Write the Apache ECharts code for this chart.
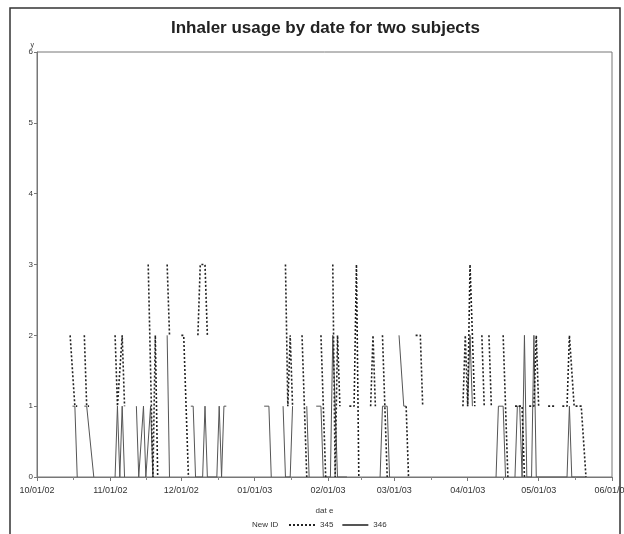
<!DOCTYPE html>
<html>
<head>
<meta charset="utf-8">
<script src="https://cdn.jsdelivr.net/npm/echarts@6/dist/echarts.min.js"></script>
<style>html,body{margin:0;padding:0;background:#fff}#c{width:624px;height:534px}</style>
</head>
<body>
<div id="c"></div>
<script>
// Subject 345 (dashed); null entries break the line
var dates345 = [
 '2002-10-15','2002-10-17','2002-10-18',null,
 '2002-10-21','2002-10-22','2002-10-23',null,
 '2002-11-03','2002-11-04','2002-11-06','2002-11-07',null,
 '2002-11-17','2002-11-19','2002-11-20','2002-11-21',null,
 '2002-11-25','2002-11-26',null,
 '2002-12-01','2002-12-02','2002-12-04',null,
 '2002-12-08','2002-12-09','2002-12-11','2002-12-12',null,
 '2003-01-14','2003-01-15','2003-01-16','2003-01-17',null,
 '2003-01-21','2003-01-23',null,
 '2003-01-29','2003-01-31',null,
 '2003-02-03','2003-02-04','2003-02-05','2003-02-06',null,
 '2003-02-10','2003-02-12','2003-02-13','2003-02-14',null,
 '2003-02-19','2003-02-20','2003-02-21',null,
 '2003-02-24','2003-02-26',null,
 '2003-03-06','2003-03-07',null,
 '2003-03-10','2003-03-12','2003-03-13',null,
 '2003-03-30','2003-03-31','2003-04-01','2003-04-02','2003-04-04',null,
 '2003-04-07','2003-04-08',null,
 '2003-04-10','2003-04-11',null,
 '2003-04-16','2003-04-18',null,
 '2003-04-21','2003-04-24','2003-04-25',null,
 '2003-04-27','2003-04-29','2003-04-30','2003-05-01',null,
 '2003-05-05','2003-05-08',null,
 '2003-05-11','2003-05-13','2003-05-14','2003-05-16','2003-05-19','2003-05-21'
];
var values345 = [
 2,1,1,null,
 2,1,1,null,
 2,1,2,1,null,
 3,0,2,0,null,
 3,2,null,
 2,2,0,null,
 2,3,3,2,null,
 3,1,2,1,null,
 2,0,null,
 2,0,null,
 3,0,2,1,null,
 1,1,3,0,null,
 1,2,1,null,
 2,0,null,
 1,0,null,
 2,2,1,null,
 1,2,1,3,1,null,
 2,1,null,
 2,1,null,
 2,0,null,
 1,1,0,null,
 1,1,2,1,null,
 1,1,null,
 1,1,2,1,1,0
];
// Subject 346 (solid)
var dates346 = [
 '2002-10-16','2002-10-17','2002-10-18',null,
 '2002-10-21','2002-10-22','2002-10-25',null,
 '2002-11-03','2002-11-04','2002-11-05','2002-11-06','2002-11-07',null,
 '2002-11-12','2002-11-13','2002-11-15','2002-11-16','2002-11-18','2002-11-19',null,
 '2002-11-25','2002-11-26',null,
 '2002-12-05','2002-12-06','2002-12-07','2002-12-10','2002-12-11','2002-12-12','2002-12-16','2002-12-17','2002-12-18','2002-12-19','2002-12-20',null,
 '2003-01-05','2003-01-07','2003-01-08',null,
 '2003-01-13','2003-01-14','2003-01-16','2003-01-17',null,
 '2003-01-23','2003-01-24',null,
 '2003-01-27','2003-01-29','2003-01-30','2003-02-02','2003-02-03','2003-02-05','2003-02-09',null,
 '2003-02-23','2003-02-24','2003-02-26','2003-02-27',null,
 '2003-03-03','2003-03-05','2003-03-06',null,
 '2003-04-01','2003-04-02','2003-04-03',null,
 '2003-04-13','2003-04-14','2003-04-16','2003-04-17',null,
 '2003-04-21','2003-04-22','2003-04-23','2003-04-24','2003-04-25','2003-04-26','2003-04-28','2003-04-29','2003-04-30','2003-05-13','2003-05-14','2003-05-15','2003-05-21'
];
var values346 = [
 1,1,0,null,
 1,1,0,null,
 0,1,0,1,0,null,
 1,0,1,0,1,0,null,
 2,0,null,
 1,1,0,0,1,0,0,1,0,1,1,null,
 1,1,0,null,
 1,0,0,1,null,
 1,0,null,
 1,1,0,0,2,0,0,null,
 0,1,1,0,null,
 2,1,1,null,
 1,2,1,null,
 0,1,1,0,null,
 0,1,1,0,2,0,0,2,0,0,1,0,0
];
var seriesNames = ['345','346'];
var yTicks = [0,1,2,3,4,5,6];

function pairs(d, v) {
  return d.map(function (x, i) { return x === null ? ['-', '-'] : [x, v[i]]; });
}

var chart = echarts.init(document.getElementById('c'), null, {renderer: 'canvas'});
var font = 'Liberation Sans, Arial, sans-serif';
chart.setOption({
  animation: false,
  backgroundColor: '#fff',
  title: {
    text: 'Inhaler usage by date for two subjects',
    left: 166, top: 15,
    textStyle: {fontFamily: font, fontSize: 17, fontWeight: 'bold', color: '#222'}
  },
  grid: {left: 37, right: 12, top: 52, bottom: 57, show: true, borderColor: '#777', borderWidth: 1,
         containLabel: false, outerBoundsMode: 'none'},
  legend: {
    left: 288, bottom: 5, padding: 0, itemWidth: 26, itemHeight: 8, itemGap: 8,
    textStyle: {fontFamily: font, fontSize: 8, color: '#333'},
    itemStyle: {color: 'rgba(0,0,0,0)', borderColor: 'rgba(0,0,0,0)', borderWidth: 0},
    data: seriesNames
  },
  xAxis: {
    type: 'time',
    min: '2002-10-01', max: '2003-06-01',
    minInterval: 28 * 86400000, maxInterval: 31 * 86400000,
    name: 'dat e', nameLocation: 'middle', nameGap: 30,
    nameTextStyle: {fontFamily: font, fontSize: 8, color: '#333'},
    axisLine: {show: true, lineStyle: {color: '#777'}},
    axisTick: {show: true, length: 4, lineStyle: {color: '#777'}},
    minorTick: {show: true, splitNumber: 2, length: 3, lineStyle: {color: '#888'}},
    splitLine: {show: false},
    axisLabel: {
      fontFamily: font, fontSize: 9, color: '#333', margin: 9,
      showMinLabel: true, showMaxLabel: true, hideOverlap: false,
      formatter: function (val) {
        var d = new Date(val);
        var mm = ('0' + (d.getMonth() + 1)).slice(-2);
        var dd = ('0' + d.getDate()).slice(-2);
        var yy = ('0' + (d.getFullYear() % 100)).slice(-2);
        return mm + '/' + dd + '/' + yy;
      }
    }
  },
  yAxis: {
    type: 'value', min: yTicks[0], max: yTicks[yTicks.length - 1], interval: 1,
    name: 'y', nameLocation: 'end', nameGap: 2,
    nameTextStyle: {fontFamily: font, fontSize: 7, color: '#333', align: 'right', padding: [0, 3, 0, 0]},
    axisLine: {show: true, lineStyle: {color: '#777'}},
    axisTick: {show: true, length: 3, lineStyle: {color: '#777'}},
    splitLine: {show: false},
    axisLabel: {fontFamily: font, fontSize: 8, color: '#333', margin: 4}
  },
  graphic: [
    {type: 'rect', shape: {x: 10, y: 8, width: 610, height: 540}, style: {fill: 'none', stroke: '#333', lineWidth: 1.5}, silent: true},
    {type: 'text', left: 252, bottom: 5, style: {text: 'New ID', fontFamily: font, fontSize: 8, fill: '#333'}}
  ],
  series: [
    {
      name: seriesNames[0], type: 'line', symbol: 'none', connectNulls: false,
      lineStyle: {type: [2, 2], width: 1.6, color: '#222'},
      itemStyle: {color: '#222'},
      data: pairs(dates345, values345), z: 3
    },
    {
      name: seriesNames[1], type: 'line', symbol: 'none', connectNulls: false,
      lineStyle: {type: 'solid', width: 1, color: '#555'},
      itemStyle: {color: '#555'},
      data: pairs(dates346, values346), z: 2
    }
  ]
});
</script>
</body>
</html>
